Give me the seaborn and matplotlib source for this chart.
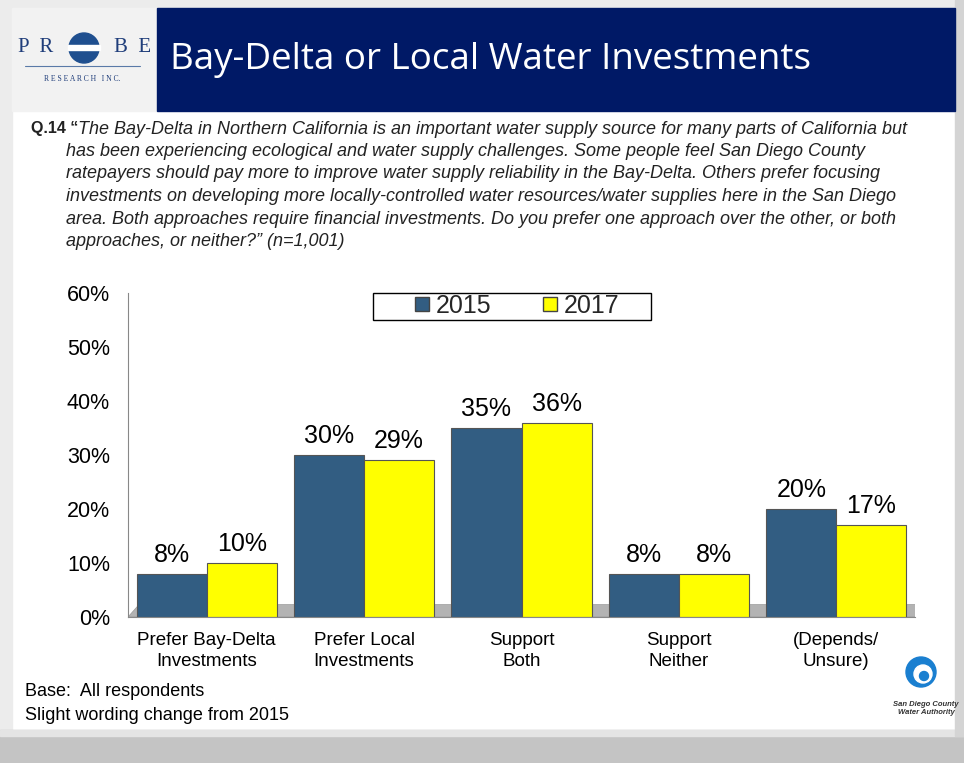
import matplotlib
matplotlib.use("Agg")
import matplotlib.pyplot as plt
import seaborn as sns
import pandas as pd
from matplotlib.patches import Rectangle, Polygon, Circle
from matplotlib.lines import Line2D

categories = ["Prefer Bay-Delta\nInvestments", "Prefer Local\nInvestments", "Support\nBoth",
              "Support\nNeither", "(Depends/\nUnsure)"]
years = ["2015", "2017"]
values_2015 = [8, 30, 35, 8, 20]
values_2017 = [10, 29, 36, 8, 17]
y_ticks = [0, 10, 20, 30, 40, 50, 60]

blue = "#325d82"
yellow = "#ffff00"

df = pd.DataFrame({
    "category": categories * 2,
    "year": ["2015"] * len(categories) + ["2017"] * len(categories),
    "value": values_2015 + values_2017,
})

sns.set_theme(style="white")
plt.rcParams["font.family"] = ["Liberation Sans", "DejaVu Sans"]

W, H = 964, 763
fig = plt.figure(figsize=(W / 100, H / 100), dpi=100)
fig.patch.set_facecolor("white")

def fx(x): return x / W
def fy(y): return 1 - y / H

# background frame decorations
bg = fig.add_axes([0, 0, 1, 1], zorder=-5)
bg.set_xlim(0, W); bg.set_ylim(H, 0); bg.axis("off")
bg.add_patch(Rectangle((0, 0), W, 8, color="#ececec"))
bg.add_patch(Rectangle((0, 0), 12, H, color="#ececec"))
bg.add_patch(Rectangle((0, 730), W, 33, color="#c4c4c4"))
bg.add_patch(Rectangle((0, 730), W, 6, color="#e4e4e4"))
bg.add_patch(Rectangle((955, 0), 9, 736, color="#d4d4d4"))
bg.add_patch(Rectangle((12, 8), 145, 103, color="#f2f2f2"))
bg.add_patch(Rectangle((157, 8), 798, 103, color="#001966"))
# Probe logo
bg.text(18, 48, "P  R", fontsize=15, family="Liberation Serif", color="#1f3d7a", va="center", ha="left")
bg.text(114, 48, "B  E", fontsize=15, family="Liberation Serif", color="#1f3d7a", va="center", ha="left")
bg.add_patch(Circle((84, 48), 15, color="#1f4f8f"))
bg.add_patch(Rectangle((68, 45), 32, 5, color="white"))
bg.plot([25, 140], [66, 66], color="#5a7aa8", lw=0.8)
bg.text(82, 79, "R E S E A R C H   I N C.", fontsize=5.5, family="Liberation Serif", color="#1f3d7a",
        va="center", ha="center")
bg.text(170, 60, "Bay-Delta or Local Water Investments", fontsize=26.5, color="white",
        family=["Open Sans", "DejaVu Sans"], va="center", ha="left")

# question text
qfs = 13.0
bg.text(31, 129, "Q.14 \u201c", fontsize=11.5, weight="bold", color="#222222", va="center", ha="left")
q_lines = [
    "The Bay-Delta in Northern California is an important water supply source for many parts of California but",
    "has been experiencing ecological and water supply challenges. Some people feel San Diego County",
    "ratepayers should pay more to improve water supply reliability in the Bay-Delta. Others prefer focusing",
    "investments on developing more locally-controlled water resources/water supplies here in the San Diego",
    "area. Both approaches require financial investments. Do you prefer one approach over the other, or both",
    "approaches, or neither?\u201d (n=1,001)",
]
for i, ln in enumerate(q_lines):
    bg.text(78 if i == 0 else 66, 129 + i * 22.5, ln, fontsize=qfs, style="italic", color="#222222",
            va="center", ha="left")

# footer
bg.text(25, 692, "Base:  All respondents", fontsize=13, color="black", va="center", ha="left")
bg.text(25, 716, "Slight wording change from 2015", fontsize=13, color="black", va="center", ha="left")
# water authority logo
bg.add_patch(Circle((921, 672), 15, color="#1a7fd0"))
bg.add_patch(Circle((923, 674), 9, color="white"))
bg.add_patch(Circle((924, 676), 4.5, color="#1a7fd0"))
bg.text(926, 704, "San Diego County", fontsize=5.5, style="italic", weight="bold", color="#333333",
        ha="center", va="center")
bg.text(926, 713, "Water Authority", fontsize=5.5, style="italic", weight="bold", color="#333333",
        ha="center", va="center")

# legend frame
bg.add_patch(Rectangle((373, 293), 278, 27, facecolor="white", edgecolor="black", lw=1.0, zorder=3))

# main axes
left, right, top, bottom = 128, 915, 293, 617
ax = fig.add_axes([fx(left), fy(bottom), fx(right - left), (bottom - top) / H])
ax.set_facecolor("none")

# floor
floor = Polygon([(-0.5, 0), (4.5, 0), (4.57, 2.3), (-0.43, 2.3)], closed=True,
                facecolor="#b3b3b3", edgecolor="#999999", lw=0.5, zorder=0.5)
ax.add_patch(floor)

sns.barplot(data=df, x="category", y="value", hue="year", palette=[blue, yellow],
            width=0.89, saturation=1, ax=ax, edgecolor="#555555", linewidth=0.8,
            legend=False, zorder=2)

for cont in ax.containers:
    ax.bar_label(cont, labels=[f"{v:.0f}%" for v in cont.datavalues], padding=5,
                 fontsize=18, color="black")

ax.set_ylim(0, 60)
ax.set_xlim(-0.5, 4.5)
ax.set_yticks(y_ticks)
ax.set_yticklabels([f"{t}%" for t in y_ticks], fontsize=15.5, color="black")
ax.set_xticks(range(len(categories)))
ax.set_xticklabels(categories, fontsize=13.5, color="black", linespacing=1.25)
ax.set_xticks([i - 0.5 for i in range(len(categories) + 1)], minor=True)
ax.tick_params(axis="x", which="major", length=0, pad=11)
ax.tick_params(axis="x", which="minor", length=6, color="#888888", direction="out")
ax.tick_params(axis="y", length=5, color="#888888", direction="out", pad=8)
ax.set_xlabel(""); ax.set_ylabel("")
for s in ["top", "right"]:
    ax.spines[s].set_visible(False)
for s in ["left", "bottom"]:
    ax.spines[s].set_color("#888888")
    ax.spines[s].set_linewidth(0.8)

handles = [Line2D([], [], marker="s", ls="", markersize=10, markerfacecolor=c,
                  markeredgecolor="#444444") for c in [blue, yellow]]
leg = fig.legend(handles, years, loc="center", bbox_to_anchor=(fx(515), fy(306)), ncol=2,
                 fontsize=18, frameon=False, handletextpad=0.1, columnspacing=1.9,
                 borderpad=0.1, handlelength=0.9, borderaxespad=0)

fig.savefig("out.png", dpi=100)
